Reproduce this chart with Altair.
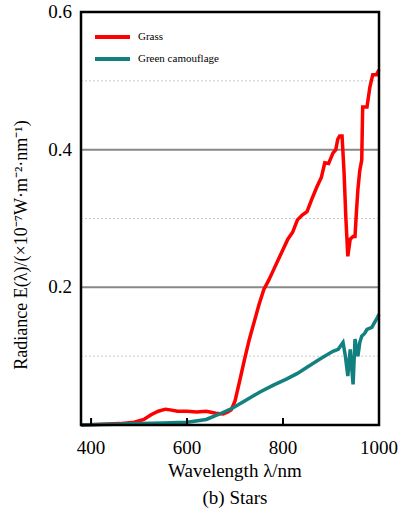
import altair as alt
import pandas as pd

# Grass radiance
grass_wl = [379, 420, 460, 490, 510, 525, 540, 555, 565, 580, 600, 620, 640, 660, 675, 685, 692, 700, 710, 720,
            730, 740, 750, 760, 770, 780, 790, 800, 810, 820, 830, 840, 850, 860, 870, 880, 887, 895, 904, 910,
            914, 918, 923, 927, 931, 935, 940, 946, 950, 953, 956, 960, 964, 966, 970, 975, 981, 987, 995, 1000]
grass_val = [0.0, 0.001, 0.002, 0.004, 0.008, 0.015, 0.02, 0.023, 0.022, 0.02, 0.02, 0.019, 0.02, 0.017, 0.016,
             0.019, 0.022, 0.035, 0.065, 0.096, 0.125, 0.15, 0.175, 0.197, 0.21, 0.225, 0.24, 0.255, 0.27, 0.28,
             0.298, 0.305, 0.31, 0.328, 0.345, 0.36, 0.381, 0.38, 0.395, 0.40, 0.415, 0.42, 0.42, 0.37, 0.30,
             0.245, 0.27, 0.274, 0.274, 0.31, 0.342, 0.37, 0.385, 0.462, 0.462, 0.462, 0.491, 0.509, 0.509, 0.516]

# Green camouflage radiance
camo_wl = [379, 450, 500, 550, 600, 640, 668, 696, 720, 752, 780, 808, 830, 850, 877, 904, 915, 925, 930, 935,
           940, 946, 950, 956, 960, 964, 970, 975, 985, 995, 1000]
camo_val = [0.0, 0.001, 0.002, 0.003, 0.004, 0.008, 0.016, 0.025, 0.035, 0.048, 0.058, 0.067, 0.075, 0.084,
            0.096, 0.107, 0.11, 0.12, 0.1, 0.071, 0.11, 0.059, 0.125, 0.1, 0.12, 0.129, 0.133, 0.139, 0.142,
            0.154, 0.161]

series_names = ["Grass", "Green camouflage"]
series_colors = ["#ff0000", "#138080"]

x_ticks = [400, 600, 800, 1000]
x_tick_labels = ["400", "600", "800", "1000"]
y_ticks = [0.2, 0.4, 0.6]
y_tick_labels = ["0.2", "0.4", "0.6"]
major_grid = [0.2, 0.4]
minor_grid = [0.1, 0.3, 0.5]

x_title = "Wavelength λ/nm"
sub_title = "(b) Stars"
y_title = "Radiance E(λ)/(×10⁻⁷W·m⁻²·nm⁻¹)"

FONT = "Liberation Serif"
W, H = 298, 413

df = pd.concat([
    pd.DataFrame({"wl": grass_wl, "val": grass_val, "series": series_names[0]}),
    pd.DataFrame({"wl": camo_wl, "val": camo_val, "series": series_names[1]}),
])

xscale = alt.Scale(domain=[379, 1000], nice=False, zero=False)
yscale = alt.Scale(domain=[0, 0.6], nice=False)
cscale = alt.Scale(domain=series_names, range=series_colors)

lines = alt.Chart(df).mark_line(strokeWidth=3.5).encode(
    x=alt.X("wl:Q", scale=xscale, axis=None),
    y=alt.Y("val:Q", scale=yscale, axis=None),
    color=alt.Color("series:N", scale=cscale, legend=None),
    detail="series:N",
)

minor = alt.Chart(pd.DataFrame({"val": minor_grid})).mark_rule(
    color="#c8c8c8", strokeDash=[2, 2], strokeWidth=1).encode(y=alt.Y("val:Q", scale=yscale, axis=None))
major = alt.Chart(pd.DataFrame({"val": major_grid})).mark_rule(
    color="#888888", strokeWidth=2).encode(y=alt.Y("val:Q", scale=yscale, axis=None))

ticks = alt.Chart(pd.DataFrame({"wl": x_ticks[:-1]})).mark_rule(color="black", strokeWidth=2).encode(
    x=alt.X("wl:Q", scale=xscale, axis=None), y=alt.value(H), y2=alt.value(H - 7))

xlab = alt.Chart(pd.DataFrame({"wl": x_ticks, "lab": x_tick_labels})).mark_text(
    font=FONT, fontSize=19, align="center", baseline="middle", color="black").encode(
    x=alt.X("wl:Q", scale=xscale, axis=None), y=alt.value(H + 23), text="lab:N")

ylab = alt.Chart(pd.DataFrame({"val": y_ticks, "lab": y_tick_labels})).mark_text(
    font=FONT, fontSize=19, align="right", baseline="middle", color="black").encode(
    y=alt.Y("val:Q", scale=yscale, axis=None), x=alt.value(-9), text="lab:N")

one = pd.DataFrame({"a": [0]})
xt = alt.Chart(one).mark_text(font=FONT, fontSize=19, align="center", baseline="middle", color="black").encode(
    x=alt.value(W / 2 + 5), y=alt.value(H + 46), text=alt.value(x_title))
st = alt.Chart(one).mark_text(font=FONT, fontSize=19, align="center", baseline="middle", color="black").encode(
    x=alt.value(W / 2 + 5), y=alt.value(H + 73), text=alt.value(sub_title))
yt = alt.Chart(one).mark_text(font=FONT, fontSize=18, align="center", baseline="middle", angle=270,
                              color="black").encode(
    x=alt.value(-59), y=alt.value(233), text=alt.value(y_title))

frame = alt.Chart(one).mark_rect(fill=None, stroke="black", strokeWidth=2.5).encode(
    x=alt.value(0), x2=alt.value(W), y=alt.value(0), y2=alt.value(H))

legend_layers = []
for i, (name, col) in enumerate(zip(series_names, series_colors)):
    ly = 25 + 22 * i
    legend_layers.append(alt.Chart(one).mark_rule(strokeWidth=4, color=col).encode(
        x=alt.value(14), x2=alt.value(49), y=alt.value(ly)))
    legend_layers.append(alt.Chart(one).mark_text(
        font=FONT, fontSize=11, align="left", baseline="middle", color="black").encode(
        x=alt.value(57), y=alt.value(ly), text=alt.value(name)))

chart = alt.layer(minor, major, lines, ticks, xlab, ylab, xt, st, yt, *legend_layers, frame).properties(
    width=W, height=H,
    autosize=alt.AutoSizeParams(type="none"),
    padding={"left": 81, "top": 12, "right": 24, "bottom": 95},
).configure_view(stroke=None)

chart.save("out.html", embed_options={"renderer": "svg", "actions": False})
